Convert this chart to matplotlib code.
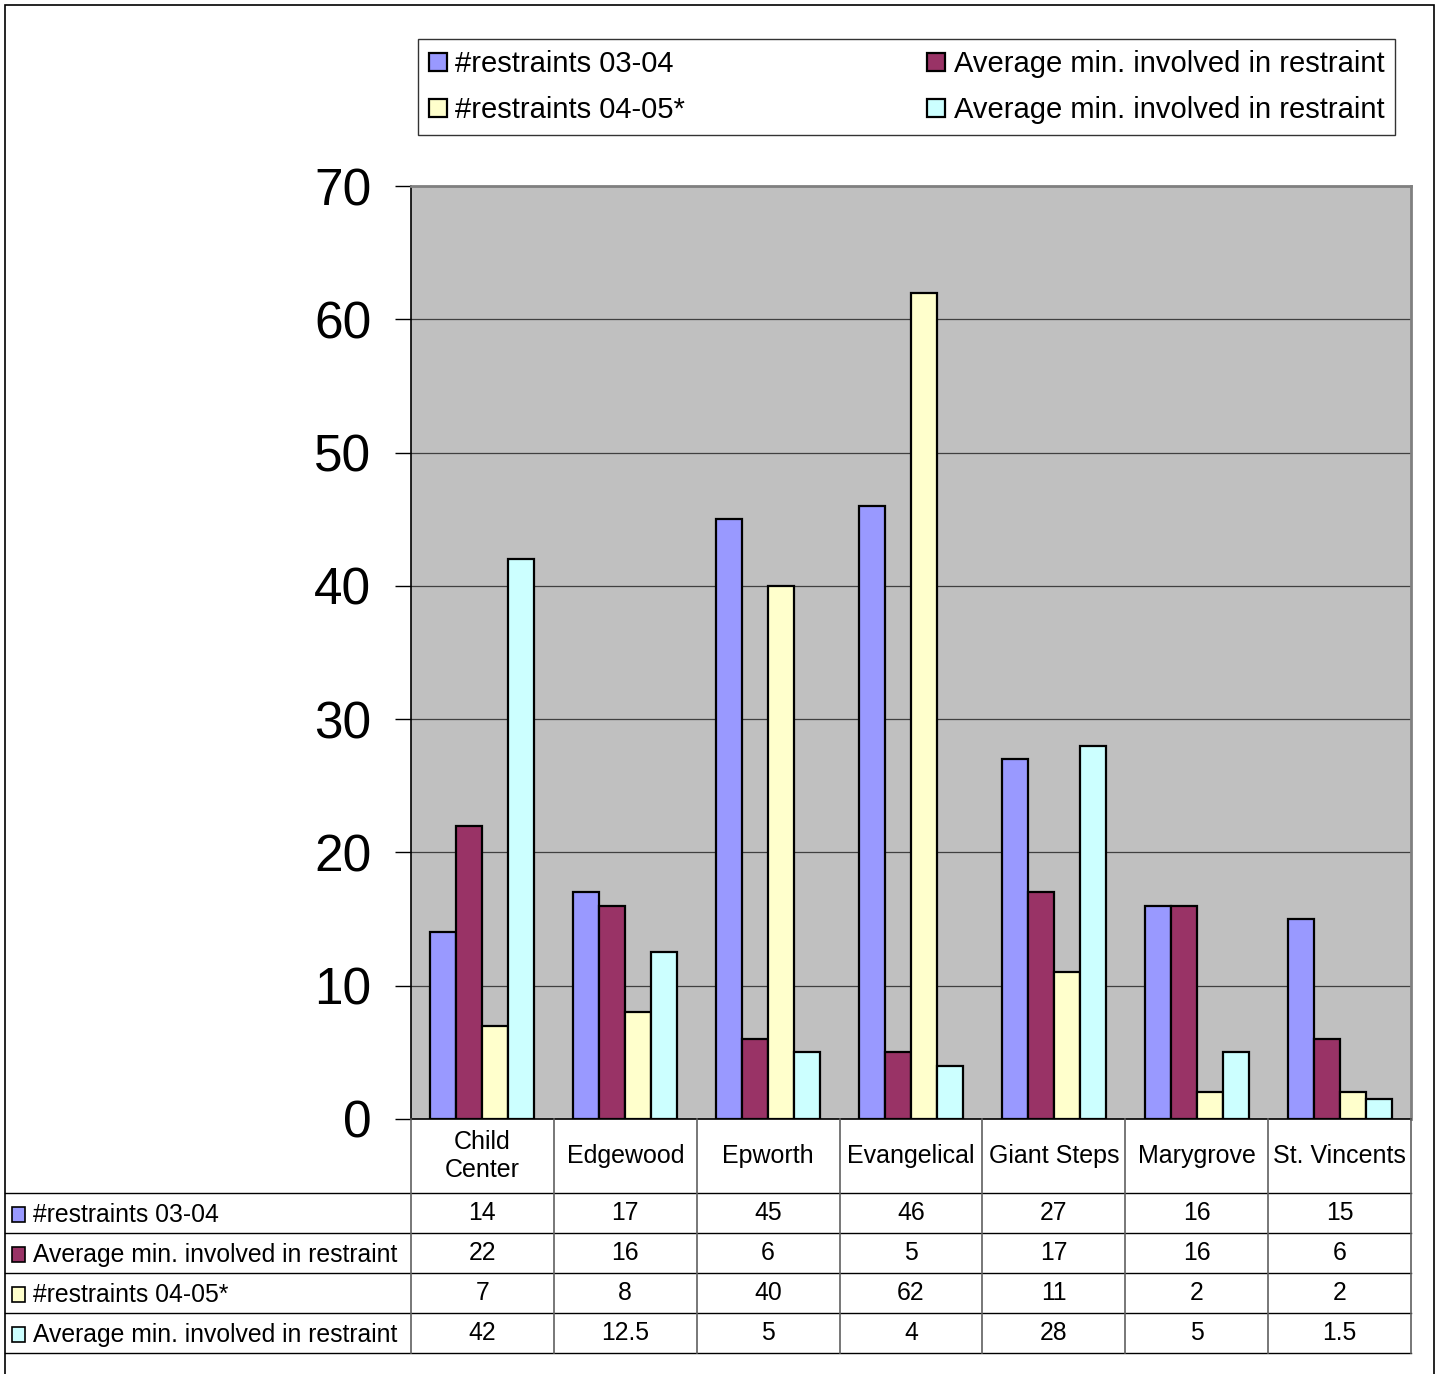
import numpy as np
import matplotlib
matplotlib.use("Agg")
import matplotlib.pyplot as plt
from matplotlib.patches import Rectangle

plt.rcParams["font.family"] = ["Liberation Sans", "DejaVu Sans"]

categories = ["Child\nCenter", "Edgewood", "Epworth", "Evangelical",
              "Giant Steps", "Marygrove", "St. Vincents"]
series_names = ["#restraints 03-04", "Average min. involved in restraint",
                "#restraints 04-05*", "Average min. involved in restraint"]
restraints_0304 = [14, 17, 45, 46, 27, 16, 15]
avg_min_0304 = [22, 16, 6, 5, 17, 16, 6]
restraints_0405 = [7, 8, 40, 62, 11, 2, 2]
avg_min_0405 = [42, 12.5, 5, 4, 28, 5, 1.5]
value_labels = [["14", "17", "45", "46", "27", "16", "15"],
                ["22", "16", "6", "5", "17", "16", "6"],
                ["7", "8", "40", "62", "11", "2", "2"],
                ["42", "12.5", "5", "4", "28", "5", "1.5"]]
colors = ["#9999FF", "#993366", "#FFFFCC", "#CCFFFF"]
yticks = [0, 10, 20, 30, 40, 50, 60, 70]

series = [restraints_0304, avg_min_0304, restraints_0405, avg_min_0405]

W, H = 1437, 1374
fig = plt.figure(figsize=(W / 100, H / 100), dpi=100)

# outer chart frame
fig.patches.append(Rectangle((5 / W, -0.01), 1429 / W, 1 - 5 / H + 0.01,
                             transform=fig.transFigure, fill=False,
                             edgecolor="black", lw=1.2))


def px_axes(x0, y0, x1, y1):
    return fig.add_axes([x0 / W, 1 - y1 / H, (x1 - x0) / W, (y1 - y0) / H])


# main plot
ax = px_axes(411, 186, 1411, 1119)
ax.set_facecolor("#C0C0C0")
x = np.arange(len(categories))
bw = 1 / 5.5
for i, (vals, c) in enumerate(zip(series, colors)):
    ax.bar(x + (i - 1.5) * bw, vals, width=bw, color=c, edgecolor="black",
           lw=1.6, zorder=3, label=series_names[i])
ax.set_xlim(-0.5, len(categories) - 0.5)
ax.set_ylim(0, 70)
ax.set_yticks(yticks)
ax.set_yticklabels([str(t) for t in yticks], fontsize=37)
ax.tick_params(axis="y", length=11.5, width=1, direction="out", pad=17)
ax.set_xticks([])
ax.yaxis.grid(True, color="#404040", lw=0.9, zorder=1)
for s in ["top", "right"]:
    ax.spines[s].set_color("#808080")
    ax.spines[s].set_linewidth(2.0)
ax.spines["left"].set_linewidth(1.2)
ax.spines["bottom"].set_linewidth(1.2)

handles, labels = ax.get_legend_handles_labels()
order = [0, 2, 1, 3]
leg = fig.legend([handles[k] for k in order], [labels[k] for k in order],
                 loc="upper left", bbox_to_anchor=(418 / W, 1 - 39 / H),
                 ncol=2, fontsize=21, frameon=True, fancybox=False,
                 handlelength=0.6, handleheight=0.6, handletextpad=0.3,
                 columnspacing=8.3, borderpad=0.38, labelspacing=0.62,
                 borderaxespad=0)
leg.get_frame().set_edgecolor("black")
leg.get_frame().set_linewidth(1.0)

# data table
tb = px_axes(5, 1119, 1411, 1353)
tb.set_xlim(5, 1411)
tb.set_ylim(1353, 1119)
tb.axis("off")
col_w = 1000 / len(categories)
row_y = [1193, 1233, 1273, 1313, 1353]
for yy in row_y:
    tb.plot([5, 1411], [yy, yy], color="black", lw=1.0, clip_on=False)
for k in range(len(categories) + 1):
    xx = 411 + k * col_w
    tb.plot([xx, xx], [1119, 1353], color="#606060", lw=1.2, clip_on=False)
for k, cat in enumerate(categories):
    tb.text(411 + (k + 0.5) * col_w, 1156, cat, ha="center", va="center",
            fontsize=18, linespacing=1.25)
for r in range(4):
    yc = (row_y[r] + row_y[r + 1]) / 2
    tb.add_patch(Rectangle((12, yc - 6), 13, 15, facecolor=colors[r],
                           edgecolor="black", lw=1.2, clip_on=False))
    tb.text(33, yc + 2, series_names[r], ha="left", va="center", fontsize=17.8)
    for k in range(len(categories)):
        tb.text(411 + (k + 0.5) * col_w, yc, value_labels[r][k],
                ha="center", va="center", fontsize=17.8)

fig.savefig("out.png", dpi=100)
